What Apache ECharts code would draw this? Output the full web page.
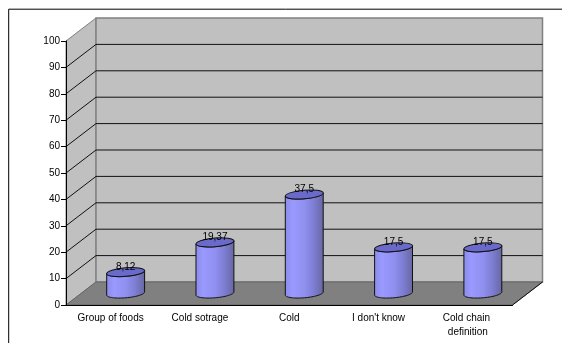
<!DOCTYPE html>
<html>
<head>
<meta charset="utf-8">
<style>html,body{margin:0;padding:0;background:#fff}#chart{width:562px;height:343px}</style>
<script src="https://cdn.jsdelivr.net/npm/echarts@6/dist/echarts.min.js"></script>
</head>
<body>
<div id="chart"></div>
<script>
const categories = ['Group of foods', 'Cold sotrage', 'Cold', "I don't know", 'Cold chain definition'];
const values = [8.12, 19.37, 37.5, 17.5, 17.5];
const valueLabels = ['8,12', '19,37', '37,5', '17,5', '17,5'];
const yTicks = [0, 10, 20, 30, 40, 50, 60, 70, 80, 90, 100];

// Pseudo-3D box: how far the back wall sits behind the front axis plane
const DEPTH_X = 30;
const DEPTH_Y = -23;
const FONT_FAMILY = '"Liberation Sans", Arial, sans-serif';
const FONT = '10px ' + FONT_FAMILY;

const chart = echarts.init(document.getElementById('chart'), null, { renderer: 'canvas' });

// Side wall, back wall, floor and the grid lines that wrap around them
function renderBox(params, api) {
  const cs = params.coordSys;
  const tick = api.value(0);
  const y = api.coord([0, tick])[1];
  const left = cs.x, right = cs.x + cs.width;
  const bx = left + DEPTH_X, by = y + DEPTH_Y;
  const children = [];
  if (params.dataIndex === 0) {
    const top = cs.y, bottom = cs.y + cs.height;
    children.push(
      { type: 'polygon', shape: { points: [[left, top], [bx, top + DEPTH_Y], [bx, bottom + DEPTH_Y], [left, bottom]] },
        style: { fill: '#c0c0c0', stroke: '#808080', lineWidth: 1 } },
      { type: 'polygon', shape: { points: [[bx, top + DEPTH_Y], [right + DEPTH_X, top + DEPTH_Y], [right + DEPTH_X, bottom + DEPTH_Y], [bx, bottom + DEPTH_Y]] },
        style: { fill: '#c0c0c0', stroke: '#808080', lineWidth: 1.5 } },
      { type: 'polygon', shape: { points: [[left, bottom], [bx, bottom + DEPTH_Y], [right + DEPTH_X, bottom + DEPTH_Y], [right, bottom]] },
        style: { fill: '#808080', stroke: '#666666', lineWidth: 1 } },
      { type: 'line', shape: { x1: right, y1: bottom, x2: right + DEPTH_X, y2: bottom + DEPTH_Y },
        style: { stroke: '#111', lineWidth: 1 } }
    );
  }
  if (tick > 0 && tick < 100) {
    children.push({
      type: 'polyline',
      shape: { points: [[left, y], [bx, by], [right + DEPTH_X, by]] },
      style: { stroke: '#111', lineWidth: 1, fill: null }
    });
  }
  return { type: 'group', silent: true, children };
}

// One point on a tilted ellipse, t in radians
function ellipsePoint(cx, cy, rx, ry, tilt, t) {
  const ex = rx * Math.cos(t), ey = ry * Math.sin(t);
  return [cx + ex * Math.cos(tilt) - ey * Math.sin(tilt),
          cy + ex * Math.sin(tilt) + ey * Math.cos(tilt)];
}
function ellipseArc(cx, cy, rx, ry, tilt, from, to) {
  const pts = [];
  for (let i = 0; i <= 40; i++) {
    pts.push(ellipsePoint(cx, cy, rx, ry, tilt, from + (to - from) * i / 40));
  }
  return pts;
}

// Cylinder standing halfway into the floor, with its value above the cap
function renderCylinder(params, api) {
  const idx = api.value(0), val = api.value(1);
  const base = api.coord([idx, 0]);
  const head = api.coord([idx, val]);
  const cx = base[0] + DEPTH_X / 2;
  const yBase = base[1] + DEPTH_Y / 2;
  const yTop = head[1] + DEPTH_Y / 2;
  const rx = api.size([1, 0])[0] * 0.213;
  const ry = 4.3, tilt = -0.085;
  const bottomArc = ellipseArc(cx, yBase, rx, ry, tilt, Math.PI, 0);
  const topArc = ellipseArc(cx, yTop, rx, ry, tilt, 0, Math.PI);
  const bodyFill = new echarts.graphic.LinearGradient(0, 0, 1, 0, [
    { offset: 0, color: '#8b8bea' },
    { offset: 0.2, color: '#9999ff' },
    { offset: 0.5, color: '#9090f0' },
    { offset: 0.75, color: '#7d7dd2' },
    { offset: 1, color: '#66669f' }
  ]);
  return {
    type: 'group',
    children: [
      { type: 'polygon', shape: { points: bottomArc.concat(topArc) },
        style: { fill: bodyFill, stroke: '#111', lineWidth: 1 } },
      { type: 'ellipse', x: cx, y: yTop, rotation: -tilt,
        shape: { cx: 0, cy: 0, rx, ry },
        style: { fill: '#6a6acb', stroke: '#111', lineWidth: 1 } },
      { type: 'text', z2: 10,
        style: { x: cx, y: yTop - 5, text: valueLabels[idx], font: FONT, fill: '#000', align: 'center', verticalAlign: 'middle' } }
    ]
  };
}

chart.setOption({
  animation: false,
  backgroundColor: '#ffffff',
  // Outer chart frame, running off the right and bottom of the page
  graphic: [
    { type: 'polyline', silent: true, shape: { points: [[8.7, 343], [8.7, 9.2], [562, 9.2]] },
      style: { stroke: '#000', lineWidth: 1, fill: null } }
  ],
  grid: { left: 66, top: 41, width: 446.5, height: 264 },
  xAxis: {
    type: 'category',
    data: categories,
    z: 5,
    axisLine: { lineStyle: { color: '#000', width: 1 } },
    axisTick: { alignWithLabel: false, length: 4, lineStyle: { color: '#000' } },
    axisLabel: { interval: 0, fontFamily: FONT_FAMILY, fontSize: 10, color: '#000', margin: 6, width: 84, overflow: 'break', lineHeight: 14 }
  },
  yAxis: {
    type: 'value',
    min: 0,
    max: 100,
    interval: 10,
    z: 5,
    splitLine: { show: false },
    axisLine: { show: true, lineStyle: { color: '#000', width: 1 } },
    axisTick: { show: true, length: 5, lineStyle: { color: '#000' } },
    axisLabel: { fontFamily: FONT_FAMILY, fontSize: 10, color: '#000', margin: 6 }
  },
  series: [
    { type: 'custom', coordinateSystem: 'cartesian2d', clip: false, z: 1,
      encode: { y: 0 }, data: yTicks.map(v => [v]), renderItem: renderBox },
    { type: 'custom', coordinateSystem: 'cartesian2d', clip: false, z: 3,
      encode: { x: 0, y: 1 }, data: values.map((v, i) => [i, v]), renderItem: renderCylinder }
  ]
});
</script>
</body>
</html>
